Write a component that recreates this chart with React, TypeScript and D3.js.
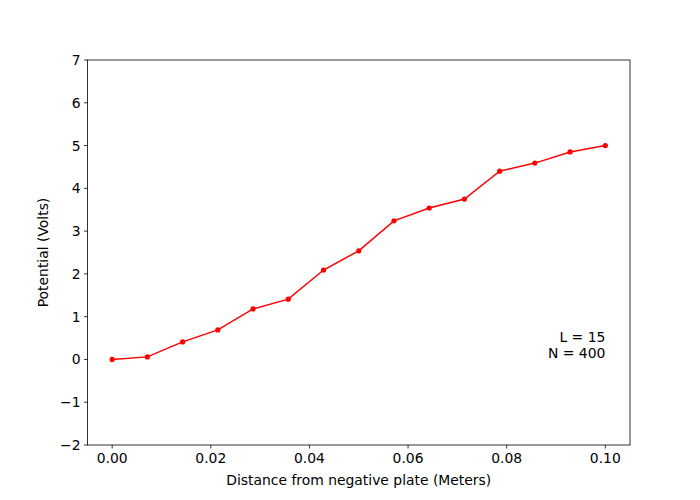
import React from "react";
import * as d3 from "d3";

const xValues = [0, 0.00714, 0.01429, 0.02143, 0.02857, 0.03571, 0.04286, 0.05, 0.05714, 0.06429, 0.07143, 0.07857, 0.08571, 0.09286, 0.1];
const yValues = [0, 0.06, 0.41, 0.69, 1.18, 1.41, 2.09, 2.54, 3.24, 3.54, 3.75, 4.4, 4.59, 4.85, 5.0];
const xTicks = [0, 0.02, 0.04, 0.06, 0.08, 0.1];
const yTicks = [-2, -1, 0, 1, 2, 3, 4, 5, 6, 7];
const annotation = ["L = 15", "N = 400"];

const W = 700, H = 500;
const L = 87.5, R = 630, T = 60, B = 445;

export default function App() {
  const x = d3.scaleLinear().domain([-0.005, 0.105]).range([L, R]);
  const y = d3.scaleLinear().domain([-2, 7]).range([B, T]);
  const line = d3.line<number>().x((_, i) => x(xValues[i])).y((d) => y(d));
  const font = "DejaVu Sans, sans-serif";
  const fs = 13.9;
  const fmtY = (v: number) => (v < 0 ? "\u2212" + Math.abs(v) : String(v));
  return (
    <svg width={W} height={H} style={{ position: "absolute", left: 0, top: 0 }} fontFamily={font}>
      <rect width={W} height={H} fill="white" />
      <path d={line(yValues) || ""} fill="none" stroke="#ff0000" strokeWidth={1.5} />
      {yValues.map((v, i) => (
        <circle key={i} cx={x(xValues[i])} cy={y(v)} r={2.6} fill="#ff0000" />
      ))}
      <rect x={L} y={T} width={R - L} height={B - T} fill="none" stroke="black" strokeWidth={0.8} />
      {xTicks.map((t) => (
        <g key={t}>
          <line x1={x(t)} x2={x(t)} y1={B} y2={B + 3.5} stroke="black" strokeWidth={0.8} />
          <text x={x(t)} y={B + 18} textAnchor="middle" fontSize={fs} fill="black">{t.toFixed(2)}</text>
        </g>
      ))}
      {yTicks.map((t) => (
        <g key={t}>
          <line x1={L - 3.5} x2={L} y1={y(t)} y2={y(t)} stroke="black" strokeWidth={0.8} />
          <text x={L - 7} y={y(t) + 5} textAnchor="end" fontSize={fs} fill="black">{fmtY(t)}</text>
        </g>
      ))}
      <text x={(L + R) / 2} y={485} textAnchor="middle" fontSize={fs} fill="black">Distance from negative plate (Meters)</text>
      <text transform={`translate(48, ${(T + B) / 2}) rotate(-90)`} textAnchor="middle" fontSize={fs} fill="black">Potential (Volts)</text>
      <text x={x(0.1)} y={y(0) - 17} textAnchor="end" fontSize={fs} fill="black">{annotation[0]}</text>
      <text x={x(0.1)} y={y(0) - 1} textAnchor="end" fontSize={fs} fill="black">{annotation[1]}</text>
    </svg>
  );
}
